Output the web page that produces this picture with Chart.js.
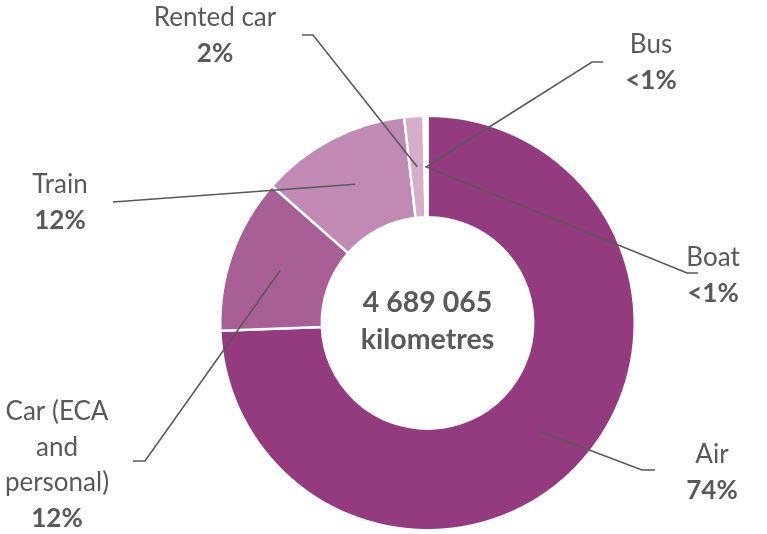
<!DOCTYPE html>
<html>
<head>
<meta charset="utf-8">
<script src="https://cdn.jsdelivr.net/npm/chart.js@4/dist/chart.umd.min.js"></script>
<style>
  html, body { margin: 0; padding: 0; background: #fff; }
  canvas { display: block; }
</style>
</head>
<body>
<canvas id="c" width="767" height="534"></canvas>
<script>
// ---- data ----
const categories = ['Air', 'Car (ECA and personal)', 'Train', 'Rented car', 'Boat', 'Bus'];
const labelLines = [['Air'], ['Car (ECA', 'and', 'personal)'], ['Train'], ['Rented car'], ['Boat'], ['Bus']];
const shares = [74.4, 12.1, 11.7, 1.5, 0.15, 0.15];
const shareLabels = ['74%', '12%', '12%', '2%', '<1%', '<1%'];
const centerLines = ['4 689 065', 'kilometres'];

// ---- styles / layout ----
const colors = ['#943A7E', '#A85F95', '#C08AB4', '#D5AECB', '#E6CFE1', '#F1E4EE'];
const textColor = '#595959';
const fontFamily = 'Lato, "Open Sans", sans-serif';
const labelLayout = [
  { elbow: [642, 470], end: [655, 470], text: [712, 455] },
  { elbow: [145, 461], end: [133, 461], text: [57, 412] },
  { elbow: null,       end: [113, 202], text: [60, 185] },
  { elbow: [313, 35],  end: [302, 35],  text: [215, 18] },
  { elbow: [687, 273], end: [698, 273], text: [713, 258] },
  { elbow: [592, 62],  end: [603, 62],  text: [651, 45] }
];

const labelPlugin = {
  id: 'labels',
  afterDraw(chart) {
    const ctx = chart.ctx;
    const meta = chart.getDatasetMeta(0);
    ctx.save();
    meta.data.forEach((arc, i) => {
      const p = arc.getProps(['x', 'y', 'startAngle', 'endAngle', 'innerRadius', 'outerRadius'], true);
      const mid = (p.startAngle + p.endAngle) / 2;
      const r = (p.innerRadius + p.outerRadius) / 2;
      const sx = p.x + Math.cos(mid) * r;
      const sy = p.y + Math.sin(mid) * r;
      const L = labelLayout[i];
      ctx.beginPath();
      ctx.strokeStyle = textColor;
      ctx.lineWidth = 1.6;
      ctx.moveTo(sx, sy);
      if (L.elbow) ctx.lineTo(L.elbow[0], L.elbow[1]);
      ctx.lineTo(L.end[0], L.end[1]);
      ctx.stroke();

      ctx.fillStyle = textColor;
      ctx.textAlign = 'center';
      ctx.textBaseline = 'middle';
      const lines = labelLines[i];
      const lh = 35.5;
      lines.forEach((t, k) => {
        ctx.font = '26px ' + fontFamily;
        ctx.fillText(t, L.text[0], L.text[1] + k * lh);
      });
      ctx.font = 'bold 26px ' + fontFamily;
      ctx.fillText(shareLabels[i], L.text[0], L.text[1] + lines.length * lh);
    });
    // center text
    const a0 = meta.data[0];
    const c = a0.getProps(['x', 'y'], true);
    ctx.font = 'bold 28.5px ' + fontFamily;
    ctx.fillStyle = textColor;
    ctx.textAlign = 'center';
    ctx.textBaseline = 'middle';
    ctx.fillText(centerLines[0], c.x, c.y - 20);
    ctx.fillText(centerLines[1], c.x, c.y + 17);
    ctx.restore();
  }
};

new Chart(document.getElementById('c'), {
  type: 'doughnut',
  data: {
    labels: categories,
    datasets: [{
      data: shares,
      backgroundColor: colors,
      borderColor: '#ffffff',
      borderWidth: 2.5,
      hoverOffset: 0
    }]
  },
  options: {
    responsive: false,
    animation: false,
    cutout: '51%',
    layout: { padding: { top: 114, bottom: 2, left: 219, right: 131 } },
    plugins: {
      legend: { display: false },
      tooltip: { enabled: false }
    }
  },
  plugins: [labelPlugin]
});
</script>
</body>
</html>
